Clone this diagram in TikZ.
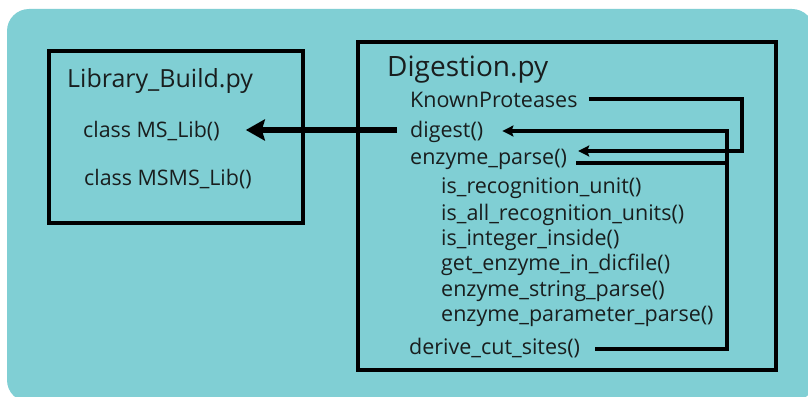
\documentclass[tikz,border=0pt]{standalone}
\usepackage{fontspec}
\setmainfont{Open Sans}
\usetikzlibrary{arrows.meta,calc}
\definecolor{bgcyan}{RGB}{128,207,212}
\definecolor{txt}{RGB}{25,30,30}
\begin{document}
\begin{tikzpicture}[x=1pt,y=-1pt,
  box/.style={draw=black,line width=3.2pt},
  bigtxt/.style={anchor=base west,inner sep=0pt,font=\fontsize{25}{28}\selectfont,text=txt},
  digtxt/.style={anchor=base west,inner sep=0pt,font=\fontsize{28}{30}\selectfont,text=txt},
  midtxt/.style={anchor=base west,inner sep=0pt,font=\fontsize{21.4}{24}\selectfont,text=txt},
  smalltxt/.style={anchor=base west,inner sep=0pt,font=\fontsize{21.5}{24}\selectfont,text=txt},
  wire/.style={line width=3.2pt},
  tip/.style={-{Stealth[length=11pt,width=11pt,inset=2pt]}}
]
\useasboundingbox (0,0) rectangle (808,396);
\fill[white] (0,0) rectangle (808,396);
\fill[bgcyan,rounded corners=22pt] (7,9) rectangle (814,402);
% boxes
\draw[box] (49,51) rectangle (303,223);
\draw[box] (358,42) rectangle (776,370);
% left texts
\node[bigtxt] (lb) at (67,88) {Library\_Build.py};
\node[midtxt] (mslib) at (83,137) {class MS\_Lib()};
\node[midtxt] (msmslib) at (84,185) {class MSMS\_Lib()};
% right texts
\node[digtxt] (dg) at (387,76) {Digestion.py};
\node[smalltxt] (kp) at (410,107) {KnownProteases};
\node[smalltxt] (dig) at (410,137) {digest()};
\node[smalltxt] (ep) at (410,164) {enzyme\_parse()};
\node[smalltxt] (iru) at (441,193) {is\_recognition\_unit()};
\node[smalltxt] (iaru) at (441,220) {is\_all\_recognition\_units()};
\node[smalltxt] (iii) at (441,245) {is\_integer\_inside()};
\node[smalltxt] (gei) at (441,270) {get\_enzyme\_in\_dicfile()};
\node[smalltxt] (esp) at (441,296) {enzyme\_string\_parse()};
\node[smalltxt] (epp) at (441,321) {enzyme\_parameter\_parse()};
\node[smalltxt] (dcs) at (409,354) {derive\_cut\_sites()};
% connector corner coordinates
\coordinate (kpA) at (742,99);
\coordinate (kpB) at (742,151);
\coordinate (vTop) at (727,131);
\coordinate (vBot) at (727,349);
% big arrow digest -> MS_Lib
\draw[line width=5.5pt,-{Stealth[length=19pt,width=21pt,inset=3pt]}]
  ($(dig.base west)+(-13,-7)$) -- ($(mslib.base east)+(26,-7)$);
% KnownProteases -> enzyme_parse
\draw[wire,tip] ($(kp.base east)+(11,-8)$) -- (kpA) -- (kpB) -- ($(ep.base east)+(11,-13)$);
% derive_cut_sites -> digest
\draw[wire,tip] ($(dcs.base east)+(15,-5)$) -- (vBot) -- (vTop) -- ($(dig.base east)+(19,-6)$);
% enzyme_parse -> vertical
\draw[wire] ($(ep.base east)+(9,-1)$) -- (vTop |- 0,163);
\end{tikzpicture}
\end{document}
